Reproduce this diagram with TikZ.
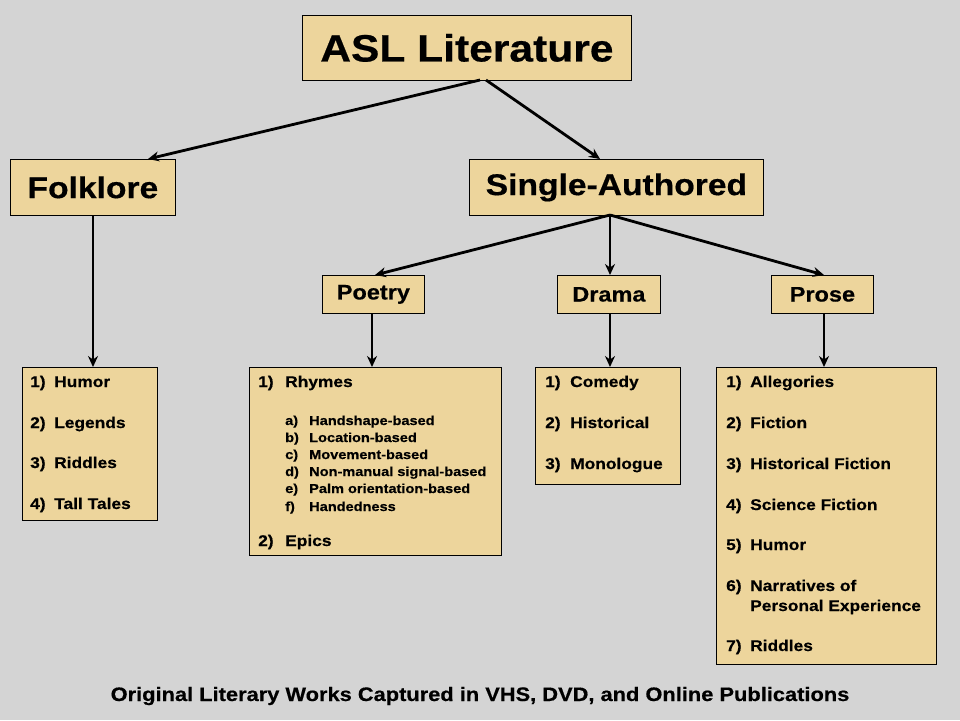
\documentclass[tikz,border=0pt]{standalone}
\usepackage{fontspec}
\setmainfont{Liberation Sans}[FakeStretch=1.12, BoldFeatures={FakeBold=0.5}]
\usetikzlibrary{arrows.meta}
\definecolor{papyrus}{HTML}{EDD59C}
\definecolor{backgray}{HTML}{D4D4D4}
\begin{document}
\begin{tikzpicture}[x=1pt, y=-1pt,
        box/.style={draw, line width=0.8pt, fill=papyrus, inner sep=0pt, anchor=north west},
        head/.style={font=\bfseries\fontsize{#1}{#1}\selectfont},
        item/.style={anchor=base west, inner sep=0pt, font=\bfseries\fontsize{15.5}{18}\selectfont},
        subitem/.style={anchor=base west, inner sep=0pt, font=\bfseries\fontsize{13}{14}\selectfont},
        link/.style={line width=2.8pt, -{Stealth[length=11pt, width=10pt]}}
    ]
        \fill[backgray] (0,0) rectangle (960,720);
        \useasboundingbox (0,0) rectangle (960,720);

        % Boxes of the hierarchy
        \node[box, minimum width=329pt, minimum height=65pt] (asl) at (302,15) {};
        \node[head=38] at (asl.center) {ASL Literature};
        \node[box, minimum width=165pt, minimum height=56pt] (folk) at (10,159) {};
        \node[head=30] at (folk.center) {Folklore};
        \node[box, minimum width=294pt, minimum height=56pt] (single) at (469,159) {};
        \node[head=30] at (single.center) {Single-Authored};
        \node[box, minimum width=102pt, minimum height=38pt] (poetry) at (322,275) {};
        \node[head=21] at (poetry.center) {Poetry};
        \node[box, minimum width=103pt, minimum height=38pt] (drama) at (557,275) {};
        \node[head=21] at (drama.center) {Drama};
        \node[box, minimum width=102pt, minimum height=38pt] (prose) at (771,275) {};
        \node[head=21] at (prose.center) {Prose};

        % List boxes
        \node[box, minimum width=135pt, minimum height=153pt] (folklist) at (22,367) {};
        \node[box, minimum width=252pt, minimum height=188pt] (poetlist) at (249,367) {};
        \node[box, minimum width=145pt, minimum height=117pt] (dramlist) at (535,367) {};
        \node[box, minimum width=220pt, minimum height=297pt] (proslist) at (716,367) {};

        % Items
        \foreach \y/\n/\t in {387/1/Humor, 428/2/Legends, 468/3/Riddles, 509/4/Tall Tales} {
            \node[item] at (30,\y) {\n)};
            \node[item] at (54,\y) {\t};
        }
        \foreach \y/\n/\t in {387/1/Comedy, 428/2/Historical, 469/3/Monologue} {
            \node[item] at (545,\y) {\n)};
            \node[item] at (570,\y) {\t};
        }
        \foreach \y/\n/\t in {387/1/Allegories, 428/2/Fiction, 469/3/Historical Fiction,
                510/4/Science Fiction, 550/5/Humor, 591/6/Narratives of, 651/7/Riddles} {
            \node[item] at (726,\y) {\n)};
            \node[item] at (750,\y) {\t};
        }
        \node[item] at (750,611) {Personal Experience};
        \node[item] at (258,387) {1)};
        \node[item] at (285,387) {Rhymes};
        \node[item] at (258,546) {2)};
        \node[item] at (285,546) {Epics};
        \foreach \y/\n/\t in {425/a/Handshape-based, 442/b/Location-based, 459/c/Movement-based,
                476/d/Non-manual signal-based, 493/e/Palm orientation-based, 511/f/Handedness} {
            \node[subitem] at (285,\y) {\n)};
            \node[subitem] at (309,\y) {\t};
        }

        % Connectors
        \coordinate (aslL) at (480,80);
        \coordinate (aslR) at (486,80);
        \coordinate (singleB) at (610,215);
        \draw[link] (aslL) -- (folk.north -| 148,0);
        \draw[link] (aslR) -- (single.north -| 600,0);
        \draw[link] (singleB) -- (poetry.north -| 375,0);
        \draw[link] (singleB) -- (drama.north -| 610,0);
        \draw[link] (singleB) -- (prose.north -| 824,0);
        \draw[link] (folk.south -| 93,0) -- (folklist.north -| 93,0);
        \draw[link] (poetry.south -| 372,0) -- (poetlist.north -| 372,0);
        \draw[link] (drama.south -| 610,0) -- (dramlist.north -| 610,0);
        \draw[link] (prose.south -| 824,0) -- (proslist.north -| 824,0);

        % Footer
        \node[head=19.5] (footer) at (480,696) {Original Literary Works Captured in VHS, DVD, and Online Publications};
    \end{tikzpicture}
\end{document}
